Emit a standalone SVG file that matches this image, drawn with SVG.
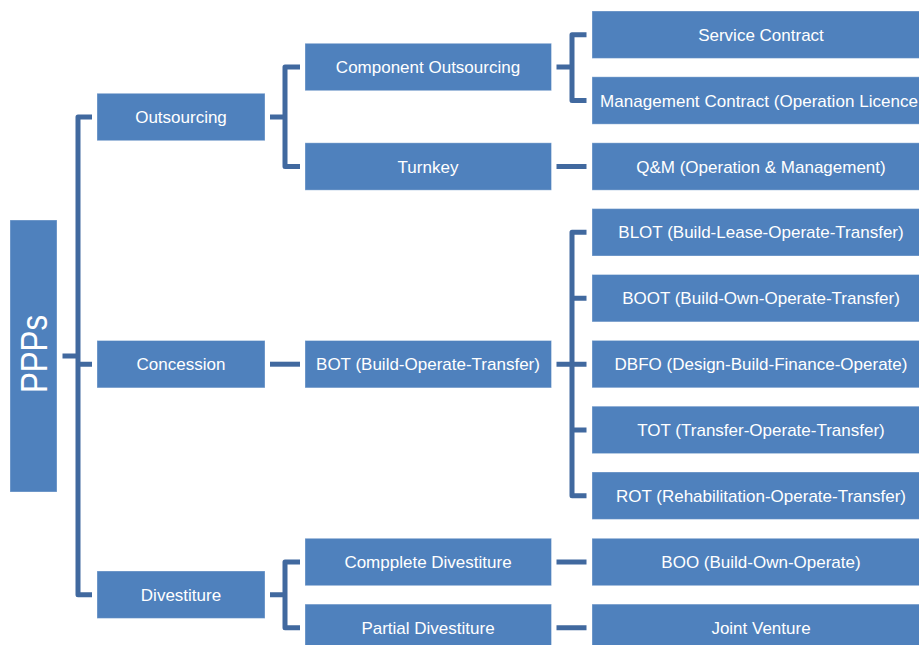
<svg xmlns="http://www.w3.org/2000/svg" width="919" height="645" viewBox="0 0 919 645">
<style>
.box{fill:#4F81BD;stroke:#ffffff;stroke-opacity:0.35;stroke-width:1}
.t{fill:#ffffff;font-family:"Liberation Sans",Arial,sans-serif;font-size:17px;text-anchor:middle}
.big{fill:#ffffff;font-family:"Liberation Sans",Arial,sans-serif;font-size:37px;text-anchor:middle}
.c{fill:none;stroke:#41699F;stroke-width:5;stroke-linejoin:round}
</style>
<rect width="919" height="645" fill="#ffffff"/>
<g id="connectors">
<path class="c" d="M62.5,356 H78 M92,117 H78 V594.7 H92 M78,364.2 H92"/>
<path class="c" d="M270,117 H285 M300,67 H285 V166.5 H300"/>
<path class="c" d="M556.5,67 H572 M586.5,34.7 H572 V100.5 H586.5"/>
<path class="c" d="M556.5,166.5 H586.5"/>
<path class="c" d="M270,364.2 H300"/>
<path class="c" d="M556.5,364.2 H586.5 M586.5,232.3 H572 V495.7 H586.5 M572,298.2 H586.5 M572,429.9 H586.5"/>
<path class="c" d="M270,594.7 H285 M300,562 H285 V627.8 H300"/>
<path class="c" d="M556.5,562 H586.5 M556.5,627.8 H586.5"/>
</g>
<g id="ppps"><rect class="box" x="10" y="220" width="47" height="272"/><text class="big" transform="translate(46.5,354) rotate(-90)" x="0" y="0" textLength="78" lengthAdjust="spacingAndGlyphs">PPPs</text></g>
<g id="outsourcing"><rect class="box" x="97" y="93.3" width="168" height="47.4"/><text class="t" x="181" y="123">Outsourcing</text></g>
<g id="concession"><rect class="box" x="97" y="340.5" width="168" height="47.4"/><text class="t" x="181" y="370.2">Concession</text></g>
<g id="divestiture"><rect class="box" x="97" y="571" width="168" height="47.4"/><text class="t" x="181" y="600.7">Divestiture</text></g>
<g id="component-outsourcing"><rect class="box" x="305" y="43.3" width="246.5" height="47.4"/><text class="t" x="428" y="73">Component Outsourcing</text></g>
<g id="turnkey"><rect class="box" x="305" y="142.8" width="246.5" height="47.4"/><text class="t" x="428" y="172.5">Turnkey</text></g>
<g id="bot"><rect class="box" x="305" y="340.5" width="246.5" height="47.4"/><text class="t" x="428" y="370.2">BOT (Build-Operate-Transfer)</text></g>
<g id="complete-divestiture"><rect class="box" x="305" y="538.3" width="246.5" height="47.4"/><text class="t" x="428" y="568">Compplete Divestiture</text></g>
<g id="partial-divestiture"><rect class="box" x="305" y="604.1" width="246.5" height="47.4"/><text class="t" x="428" y="633.8">Partial Divestiture</text></g>
<g id="service-contract"><rect class="box" x="592" y="11" width="338" height="47.4"/><text class="t" x="761" y="40.7">Service Contract</text></g>
<g id="management-contract"><rect class="box" x="592" y="76.8" width="338" height="47.4"/><text class="t" x="600" y="106.5" style="text-anchor:start" textLength="318" lengthAdjust="spacing">Management Contract (Operation Licence</text></g>
<g id="qm"><rect class="box" x="592" y="142.8" width="338" height="47.4"/><text class="t" x="761" y="172.5">Q&amp;M (Operation &amp; Management)</text></g>
<g id="blot"><rect class="box" x="592" y="208.6" width="338" height="47.4"/><text class="t" x="761" y="238.3">BLOT (Build-Lease-Operate-Transfer)</text></g>
<g id="boot"><rect class="box" x="592" y="274.5" width="338" height="47.4"/><text class="t" x="761" y="304.2">BOOT (Build-Own-Operate-Transfer)</text></g>
<g id="dbfo"><rect class="box" x="592" y="340.4" width="338" height="47.4"/><text class="t" x="761" y="370.1">DBFO (Design-Build-Finance-Operate)</text></g>
<g id="tot"><rect class="box" x="592" y="406.2" width="338" height="47.4"/><text class="t" x="761" y="435.9">TOT (Transfer-Operate-Transfer)</text></g>
<g id="rot"><rect class="box" x="592" y="472" width="338" height="47.4"/><text class="t" x="761" y="501.7">ROT (Rehabilitation-Operate-Transfer)</text></g>
<g id="boo"><rect class="box" x="592" y="538.3" width="338" height="47.4"/><text class="t" x="761" y="568">BOO (Build-Own-Operate)</text></g>
<g id="joint-venture"><rect class="box" x="592" y="604.1" width="338" height="47.4"/><text class="t" x="761" y="633.8">Joint Venture</text></g>
</svg>
